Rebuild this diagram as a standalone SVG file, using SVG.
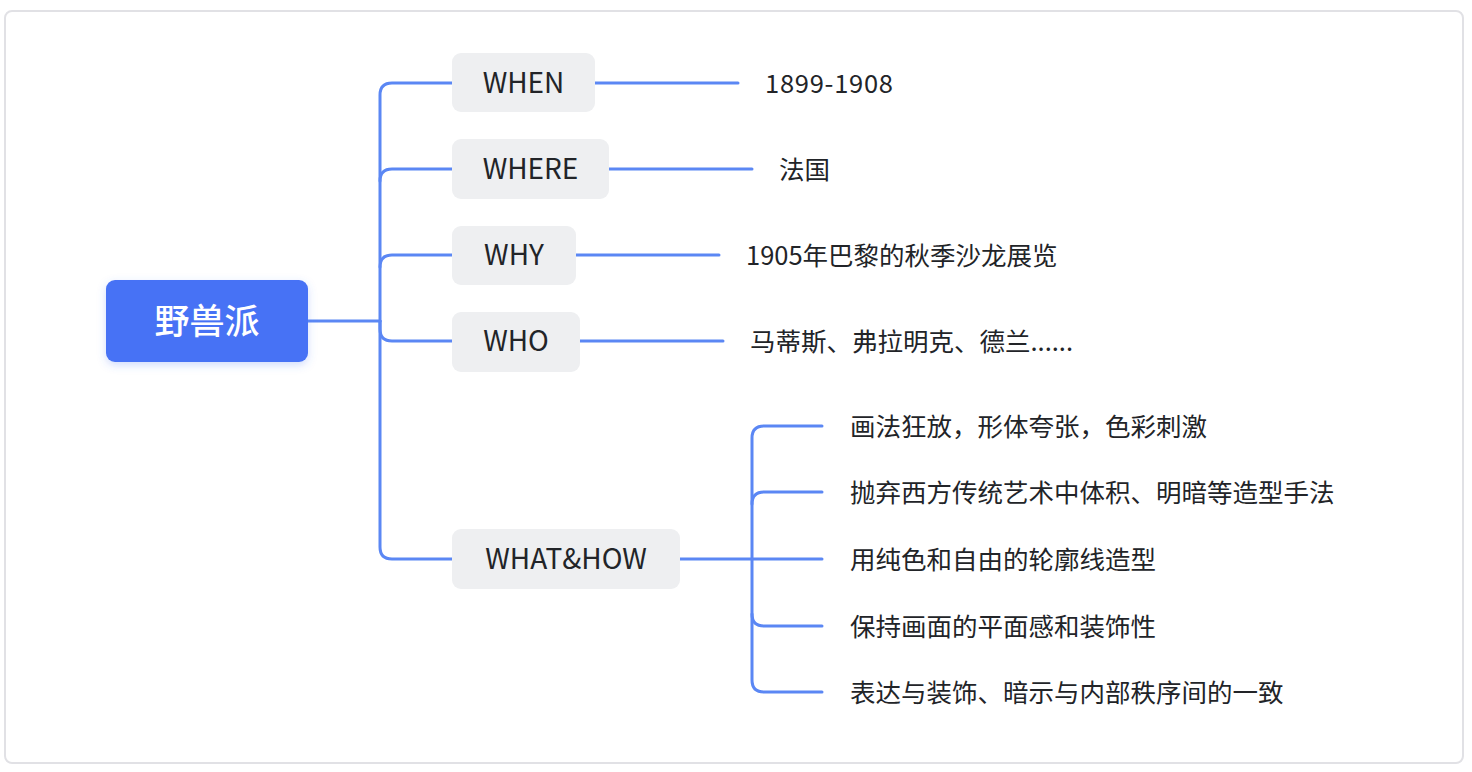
<svg xmlns="http://www.w3.org/2000/svg" width="1472" height="772" viewBox="0 0 1472 772">
<defs>
<style>
.frame{fill:#fff;stroke:#e1e1e5;stroke-width:2}
.root{fill:#4672f5}
.rt{fill:#fff;font-family:"Noto Sans CJK SC","Noto Sans",sans-serif;font-size:35px;font-weight:500}
.sub{fill:#eeeff1}
.st{fill:#222428;font-family:"Noto Sans CJK SC","Noto Sans",sans-serif;font-size:28px}
.lt{fill:#222428;font-family:"Noto Sans CJK SC","Noto Sans",sans-serif;font-size:25.5px}
.c{fill:none;stroke:#5b87f4;stroke-width:3;stroke-linecap:round}
</style>
<filter id="sh" x="-20%" y="-30%" width="140%" height="160%">
<feDropShadow dx="0" dy="3" stdDeviation="4" flood-color="#4672f5" flood-opacity="0.25"/>
</filter>
</defs>
<rect class="frame" x="5" y="11" width="1458" height="752" rx="7"/>
<g id="connectors">
<path class="c" d="M308,321 H380"/>
<path class="c" d="M380,321 V95 Q380,83 392,83 H452"/>
<path class="c" d="M380,181 Q380,169 392,169 H452"/>
<path class="c" d="M380,267 Q380,255 392,255 H452"/>
<path class="c" d="M380,321 V329 Q380,341 392,341 H452"/>
<path class="c" d="M380,321 V547 Q380,559 392,559 H452"/>
<path class="c" d="M595,83 H738"/>
<path class="c" d="M609,169 H752"/>
<path class="c" d="M576,255 H719"/>
<path class="c" d="M580,341 H723"/>
<path class="c" d="M680,559 H822"/>
<path class="c" d="M752,559 V438 Q752,426 764,426 H822"/>
<path class="c" d="M752,504 Q752,492 764,492 H822"/>
<path class="c" d="M752,614 Q752,626 764,626 H822"/>
<path class="c" d="M752,559 V680 Q752,692 764,692 H822"/>
</g>
<g id="root">
<rect class="root" x="106" y="280" width="202" height="82" rx="9" filter="url(#sh)"/>
<text class="rt" x="207" y="318" text-anchor="middle" dominant-baseline="central">野兽派</text>
</g>
<g id="when">
<rect class="sub" x="452" y="53" width="143" height="59" rx="9"/>
<text class="st" x="523.5" y="81" text-anchor="middle" dominant-baseline="central">WHEN</text>
</g>
<g id="where">
<rect class="sub" x="452" y="139" width="157" height="60" rx="9"/>
<text class="st" x="530.5" y="167" text-anchor="middle" dominant-baseline="central">WHERE</text>
</g>
<g id="why">
<rect class="sub" x="452" y="226" width="124" height="59" rx="9"/>
<text class="st" x="514" y="253" text-anchor="middle" dominant-baseline="central">WHY</text>
</g>
<g id="who">
<rect class="sub" x="452" y="312" width="128" height="60" rx="9"/>
<text class="st" x="516" y="339" text-anchor="middle" dominant-baseline="central">WHO</text>
</g>
<g id="whathow">
<rect class="sub" x="452" y="529" width="228" height="60" rx="9"/>
<text class="st" x="566" y="557" text-anchor="middle" dominant-baseline="central">WHAT&amp;HOW</text>
</g>
<g id="leaf-when"><text class="lt" x="765" y="81" dominant-baseline="central" textLength="128">1899-1908</text></g>
<g id="leaf-where"><text class="lt" x="779" y="167" dominant-baseline="central">法国</text></g>
<g id="leaf-why"><text class="lt" x="746" y="253" dominant-baseline="central">1905年巴黎的秋季沙龙展览</text></g>
<g id="leaf-who"><text class="lt" x="750" y="339" dominant-baseline="central">马蒂斯、弗拉明克、德兰......</text></g>
<g id="leaf-1"><text class="lt" x="850" y="424" dominant-baseline="central">画法狂放，形体夸张，色彩刺激</text></g>
<g id="leaf-2"><text class="lt" x="850" y="490" dominant-baseline="central">抛弃西方传统艺术中体积、明暗等造型手法</text></g>
<g id="leaf-3"><text class="lt" x="850" y="557" dominant-baseline="central">用纯色和自由的轮廓线造型</text></g>
<g id="leaf-4"><text class="lt" x="850" y="624" dominant-baseline="central">保持画面的平面感和装饰性</text></g>
<g id="leaf-5"><text class="lt" x="850" y="690" dominant-baseline="central">表达与装饰、暗示与内部秩序间的一致</text></g>
</svg>
